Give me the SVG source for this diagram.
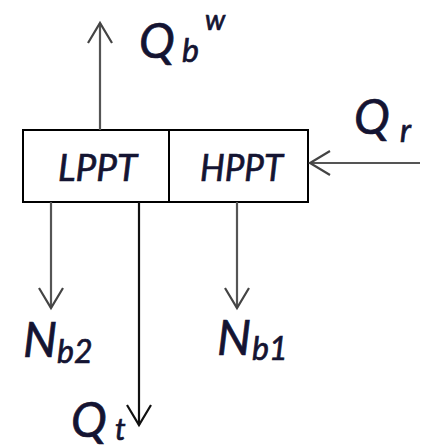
<svg xmlns="http://www.w3.org/2000/svg" width="427" height="448" viewBox="0 0 427 448">
<style>
.lbl{font-family:Lato,"Liberation Sans",Arial,sans-serif;font-style:italic;fill:#141432;stroke:#141432;stroke-width:0.7}
.big{font-size:48px}
.sub{font-size:32px}
.box{fill:#fff;stroke:#000;stroke-width:2}
.g{stroke:#555;stroke-width:2.2;fill:none}
.k{stroke:#111;stroke-width:2.2;fill:none}
</style>
<defs>
<marker id="ag" markerUnits="userSpaceOnUse" markerWidth="26" markerHeight="28" viewBox="0 0 26 28" refX="23" refY="14" orient="auto">
<path d="M3,2 L23,14 L3,26" fill="none" stroke="#444" stroke-width="2.2"/>
</marker>
<marker id="ak" markerUnits="userSpaceOnUse" markerWidth="26" markerHeight="28" viewBox="0 0 26 28" refX="23" refY="14" orient="auto">
<path d="M3,2 L23,14 L3,26" fill="none" stroke="#111" stroke-width="2.2"/>
</marker>
</defs>
<g id="turbine">
<g id="lppt">
<rect class="box" x="23" y="130" width="146" height="72"/>
<text class="lbl" x="58" y="181" font-size="37" textLength="79" lengthAdjust="spacingAndGlyphs">LPPT</text>
</g>
<g id="hppt">
<rect class="box" x="169" y="130" width="139" height="72"/>
<text class="lbl" x="200" y="181" font-size="37" textLength="83" lengthAdjust="spacingAndGlyphs">HPPT</text>
</g>
</g>
<g id="connectors">
<line class="g" x1="100" y1="130" x2="100" y2="23" marker-end="url(#ag)"/>
<line class="g" x1="420" y1="163" x2="310" y2="163" marker-end="url(#ag)"/>
<line class="g" x1="51" y1="202" x2="51" y2="308" marker-end="url(#ag)"/>
<line class="k" x1="139" y1="202" x2="139" y2="425" marker-end="url(#ak)"/>
<line class="g" x1="237" y1="202" x2="237" y2="308" marker-end="url(#ag)"/>
</g>
<g id="labels">
<g id="Qbw"><text class="lbl big" x="139" y="58">Q</text><text class="lbl sub" x="182" y="62">b</text><text class="lbl" font-size="28" x="205" y="30">w</text></g>
<g id="Qr"><text class="lbl big" x="354" y="134">Q</text><text class="lbl sub" x="400" y="142">r</text></g>
<g id="Nb2"><text class="lbl big" x="23" y="357">N</text><text class="lbl sub" x="57" y="363">b2</text></g>
<g id="Nb1"><text class="lbl big" x="217" y="355">N</text><text class="lbl sub" x="252" y="360">b1</text></g>
<g id="Qt"><text class="lbl big" x="71" y="437">Q</text><text class="lbl" font-size="30" x="115" y="440">t</text></g>
</g>
</svg>
